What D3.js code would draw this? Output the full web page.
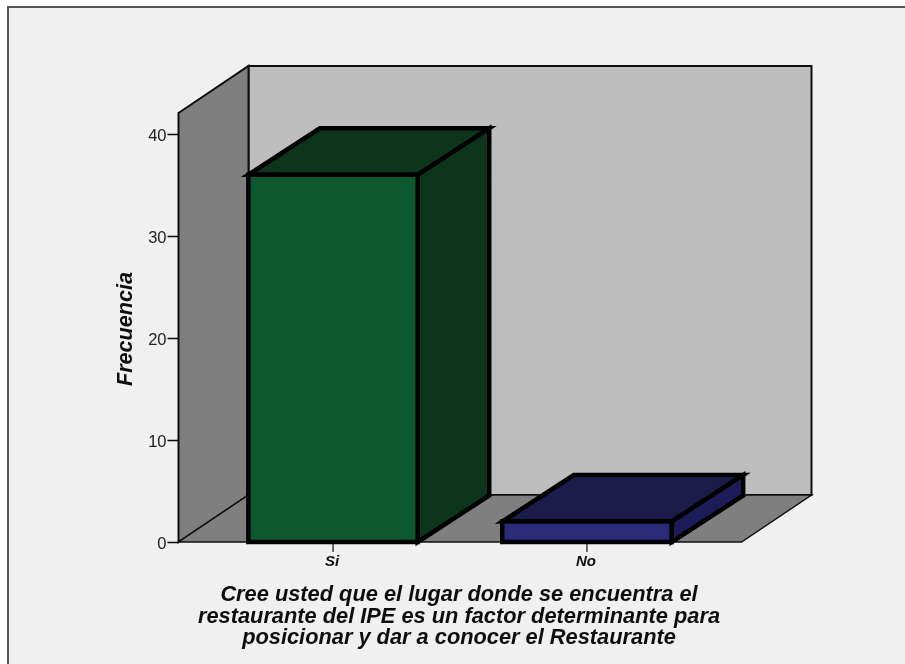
<!DOCTYPE html>
<html><head><meta charset="utf-8">
<style>html,body{margin:0;padding:0;background:#fff}svg{display:block}</style>
<script src="https://cdnjs.cloudflare.com/ajax/libs/d3/7.8.5/d3.min.js"></script>
</head><body><svg id="c" width="905" height="664"></svg>
<script>
const categories = ["Si", "No"];
const frecuencia = [36, 2];
const yTicks = [0, 10, 20, 30, 40];
const barColors = ["#0a582f", "#2a2a78"];
const topColors = ["#08361e", "#1a1a4c"];
const sideColors = ["#08361e", "#1e1e58"];
const xTitle = ["Cree usted que el lugar donde se encuentra el", "restaurante del IPE es un factor determinante para", "posicionar y dar a conocer el Restaurante"];
const yTitle = "Frecuencia";

const svg = d3.select("#c");
const defs = svg.append("defs");
defs.append("filter").attr("id", "soft").attr("x", "-5%").attr("y", "-5%").attr("width", "110%").attr("height", "110%")
  .append("feGaussianBlur").attr("stdDeviation", 0.5);
const root = svg.append("g").attr("filter", "url(#soft)");

const y = d3.scaleLinear().domain([0, 40]).range([542, 134]);
const x = d3.scaleBand().domain(categories).range([178.5, 741.5]).paddingInner(0.333).paddingOuter(0.275);
const dx = 70, dy = -47;
const barDx = 71.5, barDy = -46.5;
const yTop = y.invert(113);
const line = d3.line();
const FONT = "Liberation Sans, Arial, sans-serif";

svg.insert("rect", "g").attr("x", 8).attr("y", 7).attr("width", 910).attr("height", 670)
  .attr("fill", "#f0f0f0").attr("stroke", "#555").attr("stroke-width", 2);

const x0 = x.range()[0], x1 = x.range()[1];
const poly = (pts, fill, sw, stroke = "#000") => root.append("path").attr("d", line(pts) + "Z")
  .attr("fill", fill).attr("stroke", stroke).attr("stroke-width", sw).attr("stroke-linejoin", "miter");

// walls and floor
poly([[x0 + dx, y(yTop) + dy], [x1 + dx, y(yTop) + dy], [x1 + dx, y(0) + dy], [x0 + dx, y(0) + dy]], "#bebebe", 2, "#111");
poly([[x0, y(yTop)], [x0 + dx, y(yTop) + dy], [x0 + dx, y(0) + dy], [x0, y(0)]], "#7f7f7f", 2, "#111");
poly([[x0, y(0)], [x0 + dx, y(0) + dy], [x1 + dx, y(0) + dy], [x1, y(0)]], "#7f7f7f", 1.5, "#111");

// y axis
const yAxis = root.append("g").attr("transform", `translate(${x0},0)`)
  .call(d3.axisLeft(y).tickValues(yTicks).tickSize(11).tickPadding(1).tickSizeOuter(0));
yAxis.select(".domain").remove();
yAxis.selectAll("line").attr("stroke", "#111").attr("stroke-width", 1.5);
yAxis.selectAll("text").attr("font-family", FONT).attr("font-size", 16.5).attr("fill", "#222").attr("dy", "0.42em");

// x axis
const xAxis = root.append("g").attr("transform", `translate(0,${y(0)})`)
  .call(d3.axisBottom(x).tickSize(10).tickPadding(3).tickSizeOuter(0));
xAxis.select(".domain").remove();
xAxis.selectAll("line").attr("stroke", "#222").attr("stroke-width", 1.3);
xAxis.selectAll("text").attr("font-family", FONT).attr("font-size", 15)
  .attr("font-weight", "bold").attr("font-style", "italic").attr("fill", "#111").attr("dx", "-1");

// bars
categories.forEach((c, i) => {
  const a = x(c), b = a + x.bandwidth(), t = y(frecuencia[i]), z = y(0);
  poly([[a, t], [b, t], [b + barDx, t + barDy], [a + barDx, t + barDy]], topColors[i], 4.5);
  poly([[b, t], [b + barDx, t + barDy], [b + barDx, z + barDy], [b, z]], sideColors[i], 4.5);
  poly([[a, t], [b, t], [b, z], [a, z]], barColors[i], 4.5);
});

// titles
const t = root.append("text").attr("text-anchor", "middle").attr("font-family", FONT)
  .attr("font-size", 21.8).attr("font-weight", "bold").attr("font-style", "italic").attr("fill", "#111");
xTitle.forEach((s, i) => t.append("tspan").attr("x", 459).attr("y", 601 + i * 21.5).text(s));
root.append("text").attr("transform", "translate(132,329) rotate(-90)").attr("text-anchor", "middle")
  .attr("font-family", FONT).attr("font-size", 21.6).attr("font-weight", "bold")
  .attr("font-style", "italic").attr("fill", "#111").text(yTitle);
</script></body></html>
